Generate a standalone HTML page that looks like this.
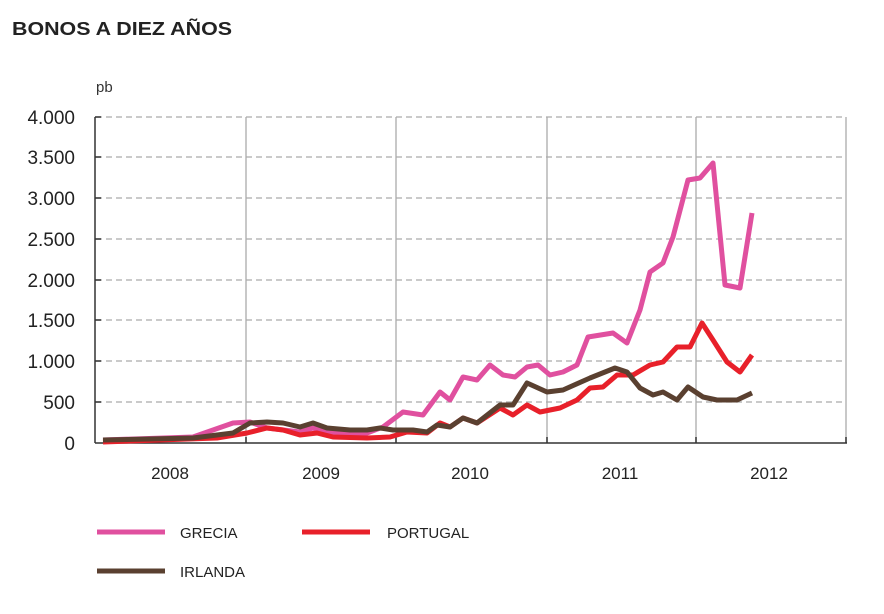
<!DOCTYPE html>
<html><head><meta charset="utf-8"><style>
body{margin:0;background:#fff;width:884px;height:609px;overflow:hidden}
svg{font-family:"Liberation Sans",Arial,sans-serif}
</style></head><body>
<svg width="884" height="609" viewBox="0 0 884 609">
<text x="12" y="35" font-size="18" font-weight="bold" fill="#222" textLength="220" lengthAdjust="spacingAndGlyphs">BONOS A DIEZ AÑOS</text>
<text x="96" y="92" font-size="15" fill="#333">pb</text>
<g stroke="#aaa" stroke-width="1.3" stroke-dasharray="6,4">
<line x1="96" y1="117" x2="846" y2="117"/><line x1="96" y1="157" x2="846" y2="157"/>
<line x1="96" y1="198" x2="846" y2="198"/><line x1="96" y1="239" x2="846" y2="239"/>
<line x1="96" y1="280" x2="846" y2="280"/><line x1="96" y1="320" x2="846" y2="320"/>
<line x1="96" y1="361" x2="846" y2="361"/><line x1="96" y1="402" x2="846" y2="402"/>
</g>
<g stroke="#aaa" stroke-width="1.3">
<line x1="246" y1="117" x2="246" y2="443"/><line x1="396" y1="117" x2="396" y2="443"/>
<line x1="547" y1="117" x2="547" y2="443"/><line x1="696" y1="117" x2="696" y2="443"/>
<line x1="846" y1="117" x2="846" y2="443"/>
</g>
<g stroke="#333" stroke-width="1.5">
<line x1="95" y1="117" x2="95" y2="443"/><line x1="95" y1="443" x2="847" y2="443"/>
<line x1="95" y1="117" x2="101" y2="117"/><line x1="95" y1="157" x2="101" y2="157"/><line x1="95" y1="198" x2="101" y2="198"/><line x1="95" y1="239" x2="101" y2="239"/><line x1="95" y1="280" x2="101" y2="280"/><line x1="95" y1="320" x2="101" y2="320"/><line x1="95" y1="361" x2="101" y2="361"/><line x1="95" y1="402" x2="101" y2="402"/>
<line x1="246" y1="437" x2="246" y2="443"/><line x1="396" y1="437" x2="396" y2="443"/><line x1="547" y1="437" x2="547" y2="443"/><line x1="696" y1="437" x2="696" y2="443"/><line x1="846" y1="437" x2="846" y2="443"/>
</g>
<g font-size="19" fill="#222" text-anchor="end">
<text x="75" y="124">4.000</text><text x="75" y="164">3.500</text><text x="75" y="205">3.000</text><text x="75" y="246">2.500</text><text x="75" y="287">2.000</text><text x="75" y="327">1.500</text><text x="75" y="368">1.000</text><text x="75" y="409">500</text><text x="75" y="450">0</text>
</g>
<g font-size="17" fill="#222" text-anchor="middle">
<text x="170" y="479">2008</text><text x="321" y="479">2009</text><text x="470" y="479">2010</text><text x="620" y="479">2011</text><text x="769" y="479">2012</text>
</g>
<g fill="none" stroke-width="5" stroke-linejoin="round">
<polyline stroke="#e0509f" points="103,440 193,437 213,430 233,423 250,422 267,428 300,432 313,428 327,433 367,433 383,427 403,412 423,415 440,392 450,400 463,377 477,380 490,365 503,375 515,377 527,367 538,365 550,375 563,372 577,365 588,337 613,333 627,343 640,310 650,272 663,263 673,237 688,180 700,178 713,163 725,285 740,288 752,213"/>
<polyline stroke="#e8202a" points="103,442 217,438 247,433 267,428 283,430 300,435 317,433 333,437 367,438 390,437 407,432 427,433 440,423 450,427 463,418 477,423 500,408 513,415 527,405 540,412 560,408 577,400 590,388 603,387 617,375 633,375 650,365 663,362 677,347 690,347 702,323 713,340 727,362 740,372 752,355"/>
<polyline stroke="#5a4030" points="103,440 193,438 233,433 250,423 267,422 283,423 300,427 313,423 327,428 350,430 367,430 380,428 393,430 413,430 427,432 437,425 450,427 463,418 477,423 500,405 513,405 527,383 547,392 563,390 590,378 615,368 627,372 640,388 653,395 663,392 677,400 688,387 703,397 717,400 737,400 752,393"/>
</g>
<line x1="97" y1="532" x2="165" y2="532" stroke="#e0509f" stroke-width="5"/>
<line x1="302" y1="532" x2="370" y2="532" stroke="#e8202a" stroke-width="5"/>
<line x1="97" y1="571" x2="165" y2="571" stroke="#5a4030" stroke-width="5"/>
<g font-size="15" fill="#222">
<text x="180" y="538">GRECIA</text><text x="387" y="538">PORTUGAL</text><text x="180" y="577">IRLANDA</text>
</g>
</svg>
</body></html>
